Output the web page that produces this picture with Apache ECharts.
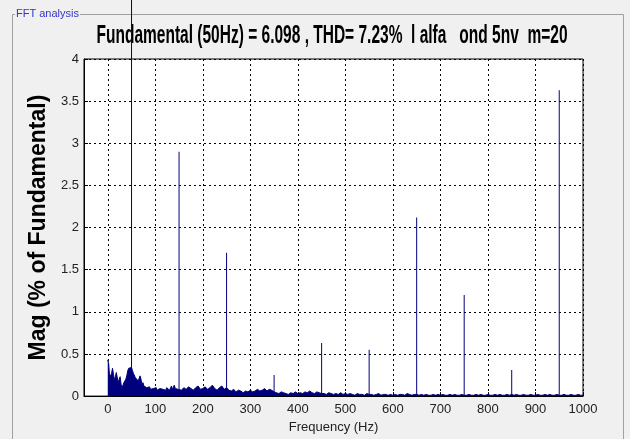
<!DOCTYPE html>
<html><head><meta charset="utf-8">
<script src="https://cdn.jsdelivr.net/npm/echarts@6/dist/echarts.min.js"></script>
<style>html,body{margin:0;padding:0;background:#f0f0f0}#c{width:630px;height:439px}</style>
</head><body><div id="c"></div><script>
const panelTitle = 'FFT analysis';
const chartTitle = 'Fundamental (50Hz) = 6.098 , THD= 7.23%  l alfa   ond 5nv  m=20';
const xAxisTitle = 'Frequency (Hz)';
const yAxisTitle = 'Mag (% of Fundamental)';
const xTickValues = [0, 100, 200, 300, 400, 500, 600, 700, 800, 900, 1000];

// harmonic spikes (Hz, % of fundamental); fundamental = 100 % runs off the axes
const harmonicHz  = [50, 150, 250, 350, 450, 550, 650, 750, 850, 950];
const harmonicMag = [100, 2.9, 1.7, 0.25, 0.63, 0.55, 2.12, 1.2, 0.31, 3.63];

// low-frequency noise floor, 0..148 Hz every 2 Hz
const noiseLowStartHz = 0, noiseLowStepHz = 2;
const noiseLowMag = [
  0.43,0.38,0.22,0.20,0.27,0.33,0.26,0.19,0.23,0.28,
  0.26,0.16,0.20,0.23,0.14,0.10,0.13,0.16,0.18,0.20,
  0.24,0.30,0.33,0.31,0.35,0.34,0.30,0.27,0.25,0.22,
  0.24,0.20,0.18,0.17,0.24,0.20,0.13,0.16,0.12,0.11,
  0.14,0.10,0.12,0.09,0.11,0.08,0.10,0.07,0.09,0.11,
  0.08,0.10,0.07,0.09,0.06,0.09,0.10,0.07,0.08,0.06,
  0.09,0.07,0.10,0.08,0.11,0.07,0.09,0.12,0.08,0.10,
  0.13,0.09,0.07,0.10,0.08
];
// noise floor 150..1000 Hz every 5 Hz
const noiseHighStartHz = 150, noiseHighStepHz = 5;
const noiseHighMag = [
  0.09,0.07,0.10,0.08,0.11,0.09,0.07,0.10,0.12,0.08,0.09,
  0.11,0.08,0.10,0.13,0.09,0.07,0.10,0.12,0.08,0.10,
  0.07,0.06,0.08,0.05,0.07,0.06,0.04,0.06,0.05,0.07,
  0.05,0.06,0.08,0.06,0.07,0.09,0.06,0.08,0.07,0.05,
  0.04,0.03,0.05,0.04,0.03,0.02,0.04,0.03,0.05,0.03,
  0.04,0.03,0.05,0.04,0.06,0.04,0.03,0.05,0.04,0.03,
  0.03,0.02,0.04,0.03,0.02,0.03,0.02,0.04,0.02,0.03,
  0.02,0.03,0.02,0.01,0.03,0.02,0.02,0.01,0.03,0.02,
  0.02,0.01,0.02,0.03,0.01,0.02,0.02,0.01,0.02,0.01,
  0.02,0.01,0.02,0.02,0.01,0.03,0.02,0.01,0.02,0.02,
  0.01,0.02,0.01,0.02,0.01,0.01,0.02,0.01,0.02,0.01,
  0.02,0.01,0.01,0.02,0.01,0.02,0.01,0.01,0.02,0.01,
  0.01,0.02,0.01,0.01,0.02,0.01,0.02,0.01,0.01,0.02,
  0.01,0.01,0.02,0.01,0.02,0.01,0.01,0.02,0.01,0.02,
  0.01,0.02,0.01,0.01,0.02,0.01,0.01,0.02,0.01,0.01,
  0.02,0.01,0.01,0.02,0.01,0.02,0.01,0.01,0.02,0.01,
  0.01,0.02,0.01,0.01,0.02,0.01,0.01,0.02,0.01,0.01
];

const noiseData = [];
noiseLowMag.forEach((v, i) => noiseData.push([noiseLowStartHz + i * noiseLowStepHz, v]));
noiseHighMag.forEach((v, i) => noiseData.push([noiseHighStartHz + i * noiseHighStepHz, v]));
const harmonicData = harmonicHz.map((f, i) => [f, harmonicMag[i]]);

// fit the condensed title into the width it takes in the reference
const titleFont = 'bold 25px "Liberation Sans", Arial, sans-serif';
const mctx = document.createElement('canvas').getContext('2d');
mctx.font = titleFont;
const titleScaleX = 471 / mctx.measureText(chartTitle).width;

const navy = '#00007f';
const labelFont = '"Liberation Sans", Arial, sans-serif';
const chart = echarts.init(document.getElementById('c'), null, {renderer: 'canvas'});
chart.setOption({
  backgroundColor: '#f0f0f0',
  animation: false,
  graphic: [
    {type: 'rect', z: 0, shape: {x: 12.5, y: 14.5, width: 611, height: 440},
     style: {fill: 'none', stroke: '#a0a0a0', lineWidth: 1}},
    {type: 'text', z: 1, x: 15, y: 14,
     style: {text: panelTitle, font: '11px "Liberation Sans", Arial', fill: '#3333cc',
             backgroundColor: '#f0f0f0', padding: [0, 1], verticalAlign: 'middle'}},
    {type: 'text', z: 1, x: 332, y: 36, scaleX: titleScaleX,
     style: {text: chartTitle, font: titleFont, fill: '#000', align: 'center', verticalAlign: 'middle'}}
  ],
  grid: {left: 84, right: 47, top: 59, bottom: 41, show: true,
         backgroundColor: '#ffffff', borderColor: '#000', borderWidth: 1},
  xAxis: {
    type: 'value', min: -50, max: 1000,
    name: xAxisTitle, nameLocation: 'middle', nameGap: 24,
    nameTextStyle: {fontFamily: labelFont, fontSize: 13, color: '#222'},
    axisLine: {show: true, onZero: false, lineStyle: {color: '#000'}},
    axisTick: {show: true, inside: true, length: 4, customValues: xTickValues, lineStyle: {color: '#000'}},
    axisLabel: {customValues: xTickValues, margin: 7, fontFamily: labelFont, fontSize: 13, color: '#222',
                formatter: v => String(v)},
    splitLine: {show: true, lineStyle: {color: '#000', type: [2, 3], width: 1}}
  },
  yAxis: {
    type: 'value', min: 0, max: 4, interval: 0.5,
    name: yAxisTitle, nameLocation: 'middle', nameGap: 33, nameRotate: 90,
    nameTextStyle: {fontFamily: labelFont, fontSize: 23, fontWeight: 'bold', color: '#000'},
    axisLine: {show: true, onZero: false, lineStyle: {color: '#000'}},
    axisTick: {show: true, inside: true, length: 4, lineStyle: {color: '#000'}},
    axisLabel: {margin: 5, fontFamily: labelFont, fontSize: 13, color: '#222'},
    splitLine: {show: true, lineStyle: {color: '#000', type: [2, 3], width: 1}}
  },
  series: [
    {type: 'line', data: noiseData, symbol: 'none', z: 3,
     lineStyle: {color: navy, width: 1}, areaStyle: {color: navy, opacity: 1}},
    {type: 'bar', data: harmonicData, barWidth: 1, clip: false, z: 5,
     itemStyle: {color: navy}}
  ]
});
</script></body></html>
